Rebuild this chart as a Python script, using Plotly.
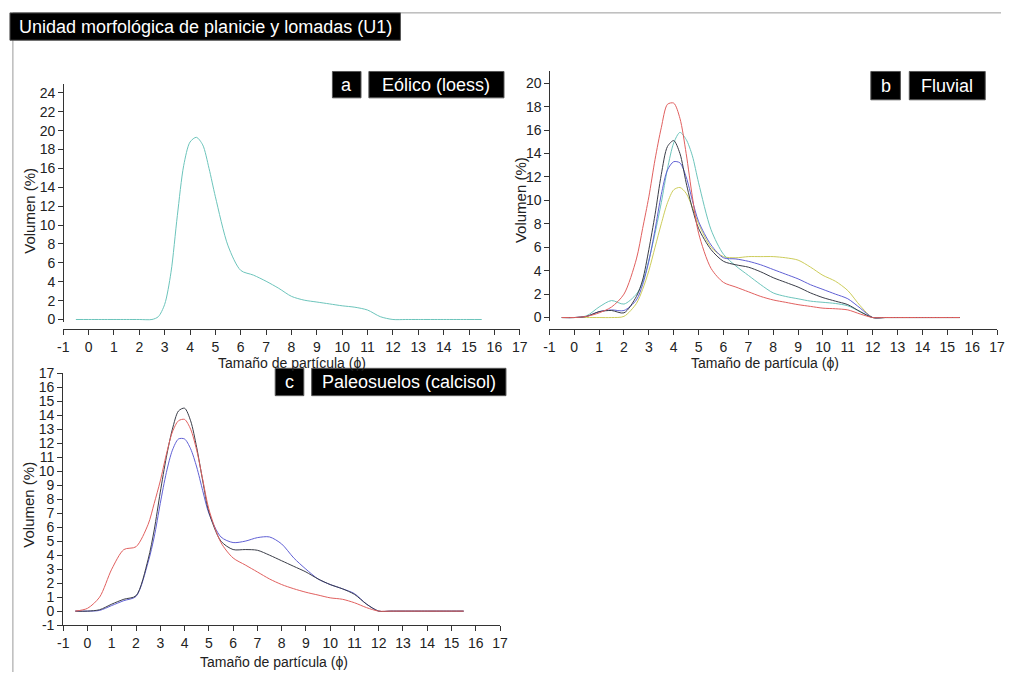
import plotly.graph_objects as go

W, H = 1009, 680

# ---------------- data ----------------
phi = [-0.5, 0, 0.5, 1, 1.5, 2, 2.5, 2.75, 3, 3.25, 3.5, 3.75, 4, 4.25, 4.5,
       4.75, 5, 5.5, 6, 6.5, 7, 7.5, 8, 8.5, 9, 9.5, 10, 10.5, 11, 11.5, 12,
       12.5, 13, 14, 15, 15.5]

# (a) Eólico (loess)
eolico = [0, 0, 0, 0, 0, 0, 0, 0.3, 1.6, 5.0, 11.0, 16.3, 18.8, 19.3, 18.5,
          16.0, 13.0, 7.8, 5.2, 4.7, 4.05, 3.3, 2.45, 2.05, 1.85, 1.65, 1.45, 1.3,
          1.0, 0.3, 0, 0, 0, 0, 0, 0]

# (b) Fluvial
fluv_rojo = [0, 0, 0.1, 0.4, 0.9, 2.0, 5.0, 7.6, 10.3, 13.5, 16.2, 18.2, 18.3,
             17.0, 14.0, 10.3, 7.2, 4.2, 3.0, 2.6, 2.2, 1.8, 1.5, 1.3, 1.1, 0.95,
             0.8, 0.75, 0.65, 0.3, 0, 0, 0, 0, 0, 0]
fluv_turquesa = [0, 0, 0.15, 0.9, 1.45, 1.15, 2.0, 3.0, 4.9, 7.2, 9.8, 12.7,
                 14.9, 15.8, 15.2, 13.8, 11.5, 7.5, 5.4, 4.4, 3.6, 2.8, 2.1,
                 1.8, 1.6, 1.4, 1.3, 1.2, 1.0, 0.5, 0, 0, 0, 0, 0, 0]
fluv_negro = [0, 0, 0.1, 0.5, 0.6, 0.4, 1.8, 3.2, 5.8, 8.8, 12.2, 14.6, 15.1,
              14.0, 11.5, 9.3, 7.6, 5.8, 4.8, 4.5, 4.3, 3.9, 3.4, 3.0, 2.6, 2.1,
              1.7, 1.4, 1.1, 0.5, 0, 0, 0, 0, 0, 0]
fluv_azul = [0, 0, 0.1, 0.5, 0.65, 0.6, 1.5, 2.8, 4.8, 7.5, 10.5, 12.6, 13.3,
             13.2, 12.0, 10.0, 8.2, 6.2, 5.1, 5.0, 4.8, 4.5, 4.1, 3.7, 3.3, 2.8,
             2.4, 2.0, 1.6, 0.8, 0, 0, 0, 0, 0, 0]
fluv_amarillo = [0, 0, 0, 0, 0, 0.1, 1.2, 2.4, 4.0, 6.0, 8.0, 9.8, 10.9, 11.1,
                 10.6, 9.4, 8.0, 6.0, 5.2, 5.1, 5.2, 5.2, 5.2, 5.1, 4.9, 4.3,
                 3.6, 3.1, 2.3, 1.0, 0, 0, 0, 0, 0, 0]

# (c) Paleosuelos (calcisol)
paleo_rojo = [0, 0.2, 1.0, 3.0, 4.4, 4.6, 6.2, 7.7, 9.3, 11.2, 12.8, 13.6, 13.7,
              13.0, 11.5, 9.4, 7.3, 4.9, 3.8, 3.3, 2.8, 2.3, 1.9, 1.6, 1.35,
              1.15, 0.95, 0.85, 0.6, 0.25, 0, 0, 0, 0, 0, 0]
paleo_negro = [0, 0, 0.1, 0.5, 0.85, 1.1, 3.7, 5.8, 8.5, 11.0, 13.0, 14.3, 14.5,
               13.6, 11.7, 9.3, 7.1, 5.0, 4.4, 4.4, 4.35, 4.0, 3.6, 3.2, 2.8,
               2.3, 1.9, 1.6, 1.2, 0.5, 0, 0, 0, 0, 0, 0]
paleo_azul = [0, 0, 0.05, 0.4, 0.75, 1.05, 3.5, 5.3, 7.7, 9.9, 11.5, 12.3, 12.3,
              11.6, 10.3, 8.6, 7.0, 5.3, 4.9, 5.0, 5.25, 5.3, 4.8, 3.8, 3.0,
              2.3, 1.9, 1.6, 1.25, 0.5, 0, 0, 0, 0, 0, 0]

x_ticks = list(range(-1, 18))
x_ticktext = [str(v) for v in x_ticks]
ya_ticks = list(range(0, 25, 2))
yb_ticks = list(range(0, 21, 2))
yc_ticks = list(range(-1, 18))
yc_ticktext = [str(v) for v in yc_ticks]

titulo = "Unidad morfológica de planicie y lomadas (U1)"
x_titulo = "Tamaño de partícula (ϕ)"
y_titulo = "Volumen (%)"

# ---------------- styling ----------------
ROJO = "#e0605f"
TURQ = "#6cc4bb"
NEGRO = "#3a3d48"
AZUL = "#6060d4"
AMAR = "#cccc5a"
FONT = "Liberation Sans, Arial, sans-serif"


def fx(px):
    return px / W


def fy(py):
    return 1 - py / H


fig = go.Figure()


def add_line(x, y, color, xa, ya):
    fig.add_trace(go.Scatter(
        x=x, y=y, mode="lines", xaxis=xa, yaxis=ya,
        line=dict(color=color, width=1.0, shape="spline", smoothing=0.8),
        showlegend=False, hoverinfo="skip"))


add_line(phi, eolico, TURQ, "x", "y")
for ser, col in [(fluv_amarillo, AMAR), (fluv_turquesa, TURQ), (fluv_azul, AZUL),
                 (fluv_negro, NEGRO), (fluv_rojo, ROJO)]:
    add_line(phi, ser, col, "x2", "y2")
for ser, col in [(paleo_azul, AZUL), (paleo_negro, NEGRO), (paleo_rojo, ROJO)]:
    add_line(phi, ser, col, "x3", "y3")

axis_common = dict(showgrid=False, zeroline=False, showline=True,
                   linecolor="#333", linewidth=1, ticks="outside", ticklen=5,
                   tickwidth=1, tickcolor="#333",
                   tickfont=dict(family=FONT, size=14, color="#222"))

# panel geometry (pixels)
a_y0, a_unit = 319.0, 9.667
b_y0, b_unit = 317.0, 12.0

fig.update_layout(
    width=W, height=H, margin=dict(l=0, r=0, t=0, b=0),
    paper_bgcolor="white", plot_bgcolor="white",
    xaxis=dict(domain=[fx(58), fx(521)], range=[-1, 17], tickvals=x_ticks,
               ticktext=x_ticktext, anchor="free", position=fy(329),
               **axis_common),
    yaxis=dict(domain=[fy(a_y0 + 0.3 * a_unit), fy(a_y0 - 25 * a_unit)],
               range=[-0.3, 25], tickvals=ya_ticks, anchor="free",
               position=fx(58), **axis_common),
    xaxis2=dict(domain=[fx(551), fx(1005)], range=[-1, 17], tickvals=x_ticks,
                ticktext=x_ticktext, anchor="free", position=fy(329),
                **axis_common),
    yaxis2=dict(domain=[fy(b_y0 + 0.3 * b_unit), fy(b_y0 - 21 * b_unit)],
                range=[-0.3, 21], tickvals=yb_ticks, anchor="free",
                position=fx(551), **axis_common),
    xaxis3=dict(domain=[fx(58), fx(501)], range=[-1, 17], tickvals=x_ticks,
                ticktext=x_ticktext, anchor="y3", **axis_common),
    yaxis3=dict(domain=[fy(632), fy(374)], range=[-1, 17], tickvals=yc_ticks,
                ticktext=yc_ticktext, anchor="x3", **axis_common),
)

shapes = []
annotations = []

# outer frame (top and left edges)
shapes.append(dict(type="line", xref="paper", yref="paper",
                   x0=fx(7), x1=1, y0=fy(5), y1=fy(5),
                   line=dict(color="#9a9a9a", width=1)))
shapes.append(dict(type="line", xref="paper", yref="paper",
                   x0=fx(7), x1=fx(7), y0=fy(5), y1=0,
                   line=dict(color="#9a9a9a", width=1)))


def box(x0, x1, y0, y1, text, size):
    shapes.append(dict(type="rect", xref="paper", yref="paper",
                       x0=fx(x0), x1=fx(x1), y0=fy(y1), y1=fy(y0),
                       line=dict(color="#555", width=1), fillcolor="black"))
    annotations.append(dict(xref="paper", yref="paper", x=fx((x0 + x1) / 2),
                            y=fy((y0 + y1) / 2), text=text, showarrow=False,
                            xanchor="center", yanchor="middle",
                            font=dict(family=FONT, size=size, color="white")))


box(4, 400, 5, 33, titulo, 18)
box(331, 360, 65, 92, "a", 18)
box(368, 505, 65, 92, "Eólico (loess)", 18)
box(877, 907, 65, 94, "b", 18)
box(916, 993, 65, 94, "Fluvial", 18)
box(273, 302, 369, 397, "c", 18)
box(310, 507, 369, 397, "Paleosuelos (calcisol)", 18)


def label(x, y, text, size, angle=0):
    annotations.append(dict(xref="paper", yref="paper", x=fx(x), y=fy(y),
                            text=text, showarrow=False, textangle=angle,
                            xanchor="center", yanchor="middle",
                            font=dict(family=FONT, size=size, color="#222")))


label(290, 364, x_titulo, 14)
label(770, 364, x_titulo, 14)
label(272, 670, x_titulo, 14)
label(23, 208, y_titulo, 15, -90)
label(522, 197, y_titulo, 15, -90)
label(22, 509, y_titulo, 15, -90)

fig.update_layout(shapes=shapes, annotations=annotations)

fig.write_html("out.html")
